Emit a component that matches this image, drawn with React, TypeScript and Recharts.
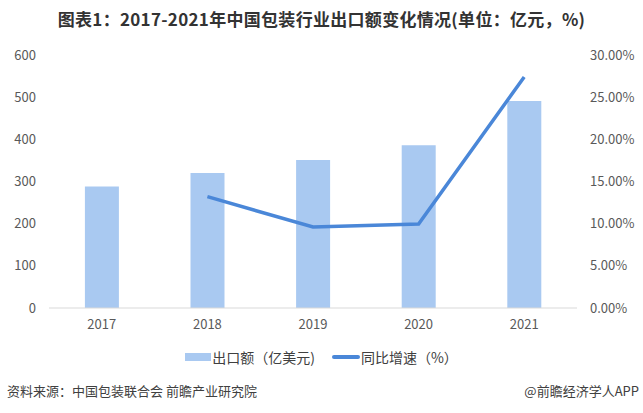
import React from "react";
import { ComposedChart, Bar, Line, XAxis, YAxis, Legend } from "recharts";

const years = ["2017", "2018", "2019", "2020", "2021"];
const exportValue = [288, 320, 351, 386, 491];
const growthRate: (number | null)[] = [null, 13.2, 9.6, 9.95, 27.4];
const leftTicks = [0, 100, 200, 300, 400, 500, 600];
const rightTicks = [0, 5, 10, 15, 20, 25, 30];

const data = years.map((y, i) => ({ year: y, value: exportValue[i], rate: growthRate[i] }));

const FONT = '"Noto Sans CJK SC", "Noto Sans", sans-serif';
const BAR = "#a9c9f1";
const LINE = "#4a87d8";
const TICK = { fontSize: 13, fill: "#595959", fontFamily: FONT };

const LegendContent = () => (
  <div style={{ height: 20, display: "flex", justifyContent: "center", alignItems: "center", fontFamily: FONT, fontSize: 14, color: "#404040" }}>
    <span style={{ display: "inline-block", width: 26, height: 8, background: BAR, marginRight: 1 }} />
    <span>出口额（亿美元)</span>
    <span style={{ display: "inline-block", width: 28, height: 4, background: LINE, borderRadius: 2, marginLeft: 17, marginRight: 1 }} />
    <span>同比增速（%）</span>
  </div>
);

export default function App() {
  return (
    <div style={{ position: "absolute", left: 0, top: 0, width: 643, height: 413, background: "#fff" }}>
      <div style={{ position: "absolute", left: 0, top: 6, width: 643, textAlign: "center", fontFamily: FONT, fontWeight: 700, fontSize: 17, color: "#333", letterSpacing: 0.3 }}>
        图表1：2017-2021年中国包装行业出口额变化情况(单位：亿元，%)
      </div>
      <ComposedChart width={643} height={413} data={data} margin={{ top: 55, right: 0, bottom: 55, left: 0 }} barCategoryGap="34%">
        <XAxis dataKey="year" height={30} tick={TICK} tickLine={false} axisLine={{ stroke: "#d9d9d9" }} tickSize={0} tickMargin={12} />
        <YAxis yAxisId="left" domain={[0, 600]} ticks={leftTicks} tick={TICK} axisLine={false} tickLine={false} tickSize={0} tickMargin={13} width={49} />
        <YAxis yAxisId="right" orientation="right" domain={[0, 30]} ticks={rightTicks} tick={TICK} axisLine={false} tickLine={false} tickSize={0} tickMargin={13} width={66} tickFormatter={(v: number) => v.toFixed(2) + "%"} />
        <Bar yAxisId="left" dataKey="value" name="出口额（亿美元)" fill={BAR} isAnimationActive={false} />
        <Line yAxisId="right" dataKey="rate" name="同比增速（%）" stroke={LINE} strokeWidth={3.5} dot={false} activeDot={false} connectNulls={false} isAnimationActive={false} />
        <Legend content={<LegendContent />} wrapperStyle={{ position: "absolute", top: 347, left: 0, width: 643, height: 20 }} />
      </ComposedChart>
      <div style={{ position: "absolute", left: 7, top: 381, fontFamily: FONT, fontSize: 13, color: "#404040" }}>资料来源：中国包装联合会 前瞻产业研究院</div>
      <div style={{ position: "absolute", right: 4, top: 381, fontFamily: FONT, fontSize: 13, color: "#404040" }}>@前瞻经济学人APP</div>
    </div>
  );
}
